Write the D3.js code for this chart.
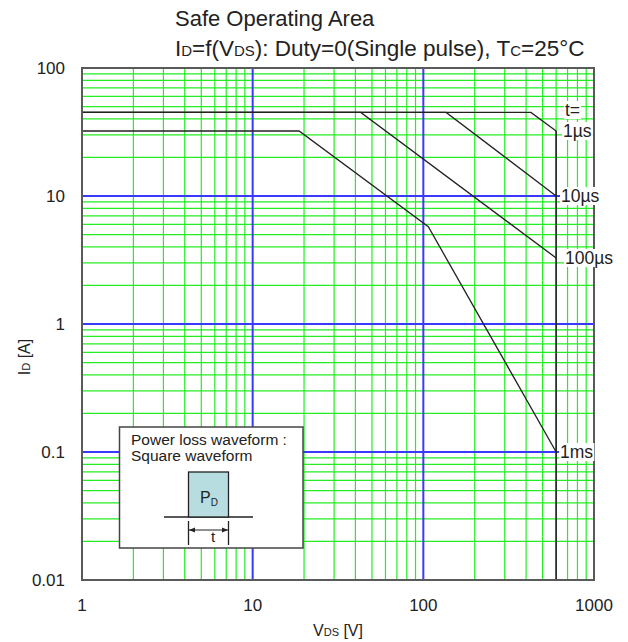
<!DOCTYPE html>
<html><head><meta charset="utf-8">
<script src="https://cdn.jsdelivr.net/npm/d3@7/dist/d3.min.js"></script>
<style>body{margin:0;background:#fff}text{font-family:"Liberation Sans",Arial,sans-serif;fill:#222}</style>
</head><body><svg id="c" width="628" height="642"></svg>
<script>
// ---- data ----
const xDomain = [1, 1000];
const yDomain = [0.01, 100];
const xMajorTicks = [1, 10, 100, 1000];
const xTickLabels = ["1", "10", "100", "1000"];
const yMajorTicks = [0.01, 0.1, 1, 10, 100];
const yTickLabels = ["0.01", "0.1", "1", "10", "100"];
const pulse1us = [[1, 45], [427, 45], [600, 32.2]];
const pulse10us = [[1, 45], [136, 45], [600, 10]];
const pulse100us = [[1, 45], [43, 45], [600, 3.28]];
const pulse1ms = [[1, 32.2], [18.7, 32.2], [107, 5.75], [600, 0.1]];
const vdsLimit = [[600, 32.2], [600, 0.01]];
const curveLabels = ["1µs", "10µs", "100µs", "1ms"];
const curveLabelI = [32.2, 10, 3.28, 0.1];

// ---- layout ----
const L = 82, R = 594, T = 68, B = 580;
const svg = d3.select("#c");
const x = d3.scaleLog().domain(xDomain).range([L, R]);
const y = d3.scaleLog().domain(yDomain).range([B, T]);

const minorX = [], minorY = [];
xMajorTicks.slice(0, -1).forEach(d => { for (let k = 2; k <= 9; k++) minorX.push(d * k); });
yMajorTicks.slice(0, -1).forEach(d => { for (let k = 2; k <= 9; k++) minorY.push(d * k); });

const g = svg.append("g");
// green minor grid
g.selectAll(".gx").data(minorX).join("line")
  .attr("x1", d => x(d)).attr("x2", d => x(d)).attr("y1", T).attr("y2", B)
  .attr("stroke", "#22ee22").attr("stroke-width", 1.2);
g.selectAll(".gy").data(minorY).join("line")
  .attr("y1", d => y(d)).attr("y2", d => y(d)).attr("x1", L).attr("x2", R)
  .attr("stroke", "#22ee22").attr("stroke-width", 1.2);
// blue major grid
g.selectAll(".bx").data(xMajorTicks.slice(1, -1)).join("line")
  .attr("x1", d => x(d)).attr("x2", d => x(d)).attr("y1", T).attr("y2", B)
  .attr("stroke", "#3a3aff").attr("stroke-width", 2);
g.selectAll(".by").data(yMajorTicks.slice(1, -1)).join("line")
  .attr("y1", d => y(d)).attr("y2", d => y(d)).attr("x1", L).attr("x2", R)
  .attr("stroke", "#3a3aff").attr("stroke-width", 2);

// curves
const line = d3.line().x(d => x(d[0])).y(d => y(d[1]));
[pulse1us, pulse10us, pulse100us, pulse1ms].forEach(c => {
  svg.append("path").attr("d", line(c)).attr("fill", "none")
    .attr("stroke", "#222").attr("stroke-width", 1.3);
});
svg.append("path").attr("d", line(vdsLimit)).attr("fill", "none")
  .attr("stroke", "#222").attr("stroke-width", 1.6);

// frame
svg.append("rect").attr("x", L).attr("y", T).attr("width", R - L).attr("height", B - T)
  .attr("fill", "none").attr("stroke", "#5a5a5a").attr("stroke-width", 2);

// tick labels
svg.selectAll(".xt").data(xMajorTicks).join("text")
  .attr("x", d => x(d)).attr("y", 611).attr("text-anchor", "middle")
  .attr("font-size", 17).text((d, i) => xTickLabels[i]);
svg.selectAll(".yt").data(yMajorTicks).join("text")
  .attr("x", 65).attr("y", d => y(d) + 6).attr("text-anchor", "end")
  .attr("font-size", 17).text((d, i) => yTickLabels[i]);

// axis titles
const xt = svg.append("text").attr("x", 338).attr("y", 636).attr("text-anchor", "middle").attr("font-size", 16);
xt.append("tspan").text("V");
xt.append("tspan").attr("font-size", 11).text("DS");
xt.append("tspan").text(" [V]");
const yt = svg.append("text").attr("transform", "translate(30,357) rotate(-90)").attr("text-anchor", "middle").attr("font-size", 16);
yt.append("tspan").text("I");
yt.append("tspan").attr("font-size", 11).text("D");
yt.append("tspan").text(" [A]");

// title
svg.append("text").attr("x", 175).attr("y", 26).attr("font-size", 22).text("Safe Operating Area");
const st = svg.append("text").attr("x", 175).attr("y", 56).attr("font-size", 22.5);
st.append("tspan").text("I");
st.append("tspan").attr("font-size", 15).text("D");
st.append("tspan").text("=f(V");
st.append("tspan").attr("font-size", 15).text("DS");
st.append("tspan").text("): Duty=0(Single pulse), T");
st.append("tspan").attr("font-size", 15).text("C");
st.append("tspan").text("=25°C");

// curve labels with white background
function label(txt, lx, cy) {
  const t = svg.append("text").attr("x", lx).attr("y", cy + 6).attr("font-size", 17.5).text(txt);
  const bb = t.node().getBBox();
  svg.insert("rect", () => t.node()).attr("x", bb.x - 1).attr("y", bb.y + 1)
    .attr("width", bb.width + 2).attr("height", bb.height - 2).attr("fill", "#fff");
}
label("t=", 565, 110);
const labelX = [563, 561, 565, 560];
curveLabels.forEach((s, i) => label(s, labelX[i], y(curveLabelI[i])));

// inset
const ins = svg.append("g");
ins.append("rect").attr("x", 119.5).attr("y", 427).attr("width", 183.5).attr("height", 121)
  .attr("fill", "#fff").attr("stroke", "#444").attr("stroke-width", 1.5);
ins.append("text").attr("x", 131).attr("y", 445).attr("font-size", 15.5).text("Power loss waveform :");
ins.append("text").attr("x", 131).attr("y", 461).attr("font-size", 15.5).text("Square waveform");
ins.append("line").attr("x1", 164).attr("x2", 253).attr("y1", 517).attr("y2", 517).attr("stroke", "#222").attr("stroke-width", 1.3);
ins.append("rect").attr("x", 188.5).attr("y", 472).attr("width", 40).attr("height", 45)
  .attr("fill", "#b7dde0").attr("stroke", "#222").attr("stroke-width", 1.3);
const pd = ins.append("text").attr("x", 200).attr("y", 503).attr("font-size", 16);
pd.append("tspan").text("P");
pd.append("tspan").attr("font-size", 10).attr("dy", 3).text("D");
ins.append("line").attr("x1", 188.5).attr("x2", 188.5).attr("y1", 521).attr("y2", 545).attr("stroke", "#222").attr("stroke-width", 1.3);
ins.append("line").attr("x1", 228.5).attr("x2", 228.5).attr("y1", 521).attr("y2", 545).attr("stroke", "#222").attr("stroke-width", 1.3);
ins.append("line").attr("x1", 189).attr("x2", 228).attr("y1", 530).attr("y2", 530).attr("stroke", "#222").attr("stroke-width", 1.2);
ins.append("path").attr("d", "M189,530 l6,-2.5 v5 z").attr("fill", "#222");
ins.append("path").attr("d", "M228,530 l-6,-2.5 v5 z").attr("fill", "#222");
ins.append("text").attr("x", 213).attr("y", 542).attr("text-anchor", "middle").attr("font-size", 15).text("t");
</script></body></html>
